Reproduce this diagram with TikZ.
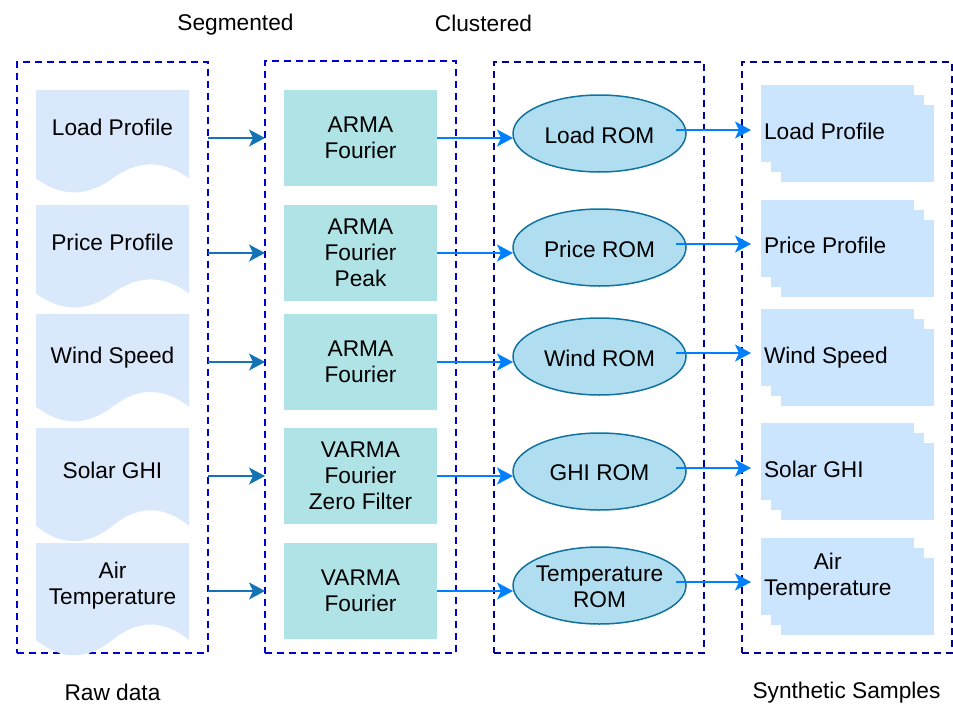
\documentclass[tikz,border=0pt]{standalone}
\usepackage{fontspec}
\setmainfont{Liberation Sans}
\usetikzlibrary{arrows.meta,shapes.geometric,calc}
\definecolor{rawfill}{HTML}{DAE8FC}
\definecolor{segfill}{HTML}{B0E3E6}
\definecolor{romfill}{HTML}{B1DDF0}
\definecolor{romline}{HTML}{10739E}
\definecolor{synfill}{HTML}{CCE5FF}
\definecolor{arrA}{HTML}{1473B4}
\definecolor{arrB}{HTML}{007FFF}
\definecolor{boxA}{HTML}{0000CC}
\definecolor{boxB}{HTML}{000099}

\newcommand\rawdocshape[2]{% top, height
  \pgfmathsetmacro\rdT{#1}%
  \pgfmathsetmacro\rdA{#1+0.85*#2}%
  \pgfmathsetmacro\rdU{\rdA-0.18*#2}%
  \pgfmathsetmacro\rdL{\rdA+0.18*#2}%
  \fill[rawfill] (36,\rdT) -- (189,\rdT) -- (189,\rdA)
    .. controls (163.5,\rdU) and (138,\rdU) .. (112.5,\rdA)
    .. controls (87,\rdL) and (61.5,\rdL) .. (36,\rdA) -- cycle;}

\newcommand\synstackshape[2]{% name, top
  \fill[synfill] (781,#2+20) rectangle (934,#2+97);
  \fill[synfill] (771,#2+10) rectangle (924,#2+87);
  \node[synbox] (#1) at (761,#2) {};}

\begin{document}
\begin{tikzpicture}[x=1pt,y=-1pt,
  every node/.style={font=\fontsize{22.7}{26}\selectfont, inner sep=0pt, outer sep=0pt},
  dbox/.style={draw, rectangle, line width=2pt, dash pattern=on 7pt off 5pt, anchor=north west},
  segbox/.style={rectangle, fill=segfill, minimum width=153pt, minimum height=96pt, align=center},
  rom/.style={ellipse, draw=romline, line width=1.5pt, fill=romfill, minimum width=173pt, minimum height=77pt},
  synbox/.style={rectangle, fill=synfill, anchor=north west, minimum width=153pt, minimum height=77pt},
  txt/.style={align=center},
  arrowA/.style={draw=arrA, line width=1.8pt, -{Stealth[length=16pt,width=17pt,inset=4pt]}},
  arrowB/.style={draw=arrB, line width=1.8pt, -{Stealth[length=16pt,width=17pt,inset=4pt]}}
]
\useasboundingbox (0,0) rectangle (953,704);

% dashed group boxes
\node[dbox, draw=boxA, minimum width=191pt, minimum height=591pt] (raw) at (17,62) {};
\node[dbox, draw=boxA, minimum width=191pt, minimum height=592pt] (seg) at (265,61) {};
\node[dbox, draw=boxB, minimum width=210pt, minimum height=591pt] (clu) at (494,62) {};
\node[dbox, draw=boxB, minimum width=210pt, minimum height=591pt] (syn) at (742,62) {};

% group labels
\node (lseg) at (235.5,25) {Segmented};
\node (lclu) at (483.5,23) {Clustered};
\node (lraw) at (112.5,692) {Raw data};
\node (lsyn) at (846.5,693) {Synthetic Samples};

% raw data documents
\rawdocshape{90}{104}
\rawdocshape{205}{104}
\rawdocshape{314}{109}
\rawdocshape{428}{115}
\rawdocshape{543}{114}
\node[txt] (r1) at (112.5,127) {Load Profile};
\node[txt] (r2) at (112.5,242) {Price Profile};
\node[txt] (r3) at (112.5,358) {Wind Speed};
\node[txt] (r4) at (112.5,470) {Solar GHI};
\node[txt] (r5) at (112.5,586) {Air\\Temperature};

% segmented models
\node[segbox] (g1) at (360.5,138) {ARMA\\Fourier};
\node[segbox] (g2) at (360.5,253) {ARMA\\Fourier\\Peak};
\node[segbox] (g3) at (360.5,362) {ARMA\\Fourier};
\node[segbox] (g4) at (360.5,476) {VARMA\\Fourier\\Zero Filter};
\node[segbox] (g5) at (360.5,591) {VARMA\\Fourier};

% clustered ROMs
\node[rom] (e1) at (599.5,133.5) {};
\node[rom] (e2) at (599.5,247.5) {};
\node[rom] (e3) at (599.5,356.5) {};
\node[rom] (e4) at (599.5,471.5) {};
\node[rom] (e5) at (599.5,585.5) {};
\node[txt] (e1t) at (599.5,135) {Load ROM};
\node[txt] (e2t) at (599.5,249.5) {Price ROM};
\node[txt] (e3t) at (599.5,358) {Wind ROM};
\node[txt] (e4t) at (599.5,473) {GHI ROM};
\node[txt] (e5t) at (599.5,587) {Temperature\\ROM};

% synthetic samples
\synstackshape{s1}{85}
\synstackshape{s2}{200}
\synstackshape{s3}{309}
\synstackshape{s4}{423}
\synstackshape{s5}{538}
\node[anchor=west] (s1t) at (764,131) {Load Profile};
\node[anchor=west] (s2t) at (764,245) {Price Profile};
\node[anchor=west] (s3t) at (764,357.5) {Wind Speed};
\node[anchor=west] (s4t) at (764,469) {Solar GHI};
\node[anchor=west, align=center] (s5t) at (764,577) {Air\\Temperature};

% raw -> segmented
\foreach \g in {g1,g2,g3,g4,g5}
  \draw[arrowA] (raw.east |- \g) -- (seg.west |- \g);

% segmented -> clustered
\foreach \g/\e in {g1/e1,g2/e2,g3/e3,g4/e4,g5/e5}
  \draw[arrowB] (\g.east) -- (\g.east -| \e.west);

% clustered -> synthetic
\foreach \e/\s in {e1/s1,e2/s2,e3/s3,e4/s4,e5/s5}
  \draw[arrowB] ($(\e.east)+(-10,-3.5)$) coordinate (c\e)
    -- ($(\s.west |- c\e)+(-10,0)$);
\end{tikzpicture}
\end{document}
